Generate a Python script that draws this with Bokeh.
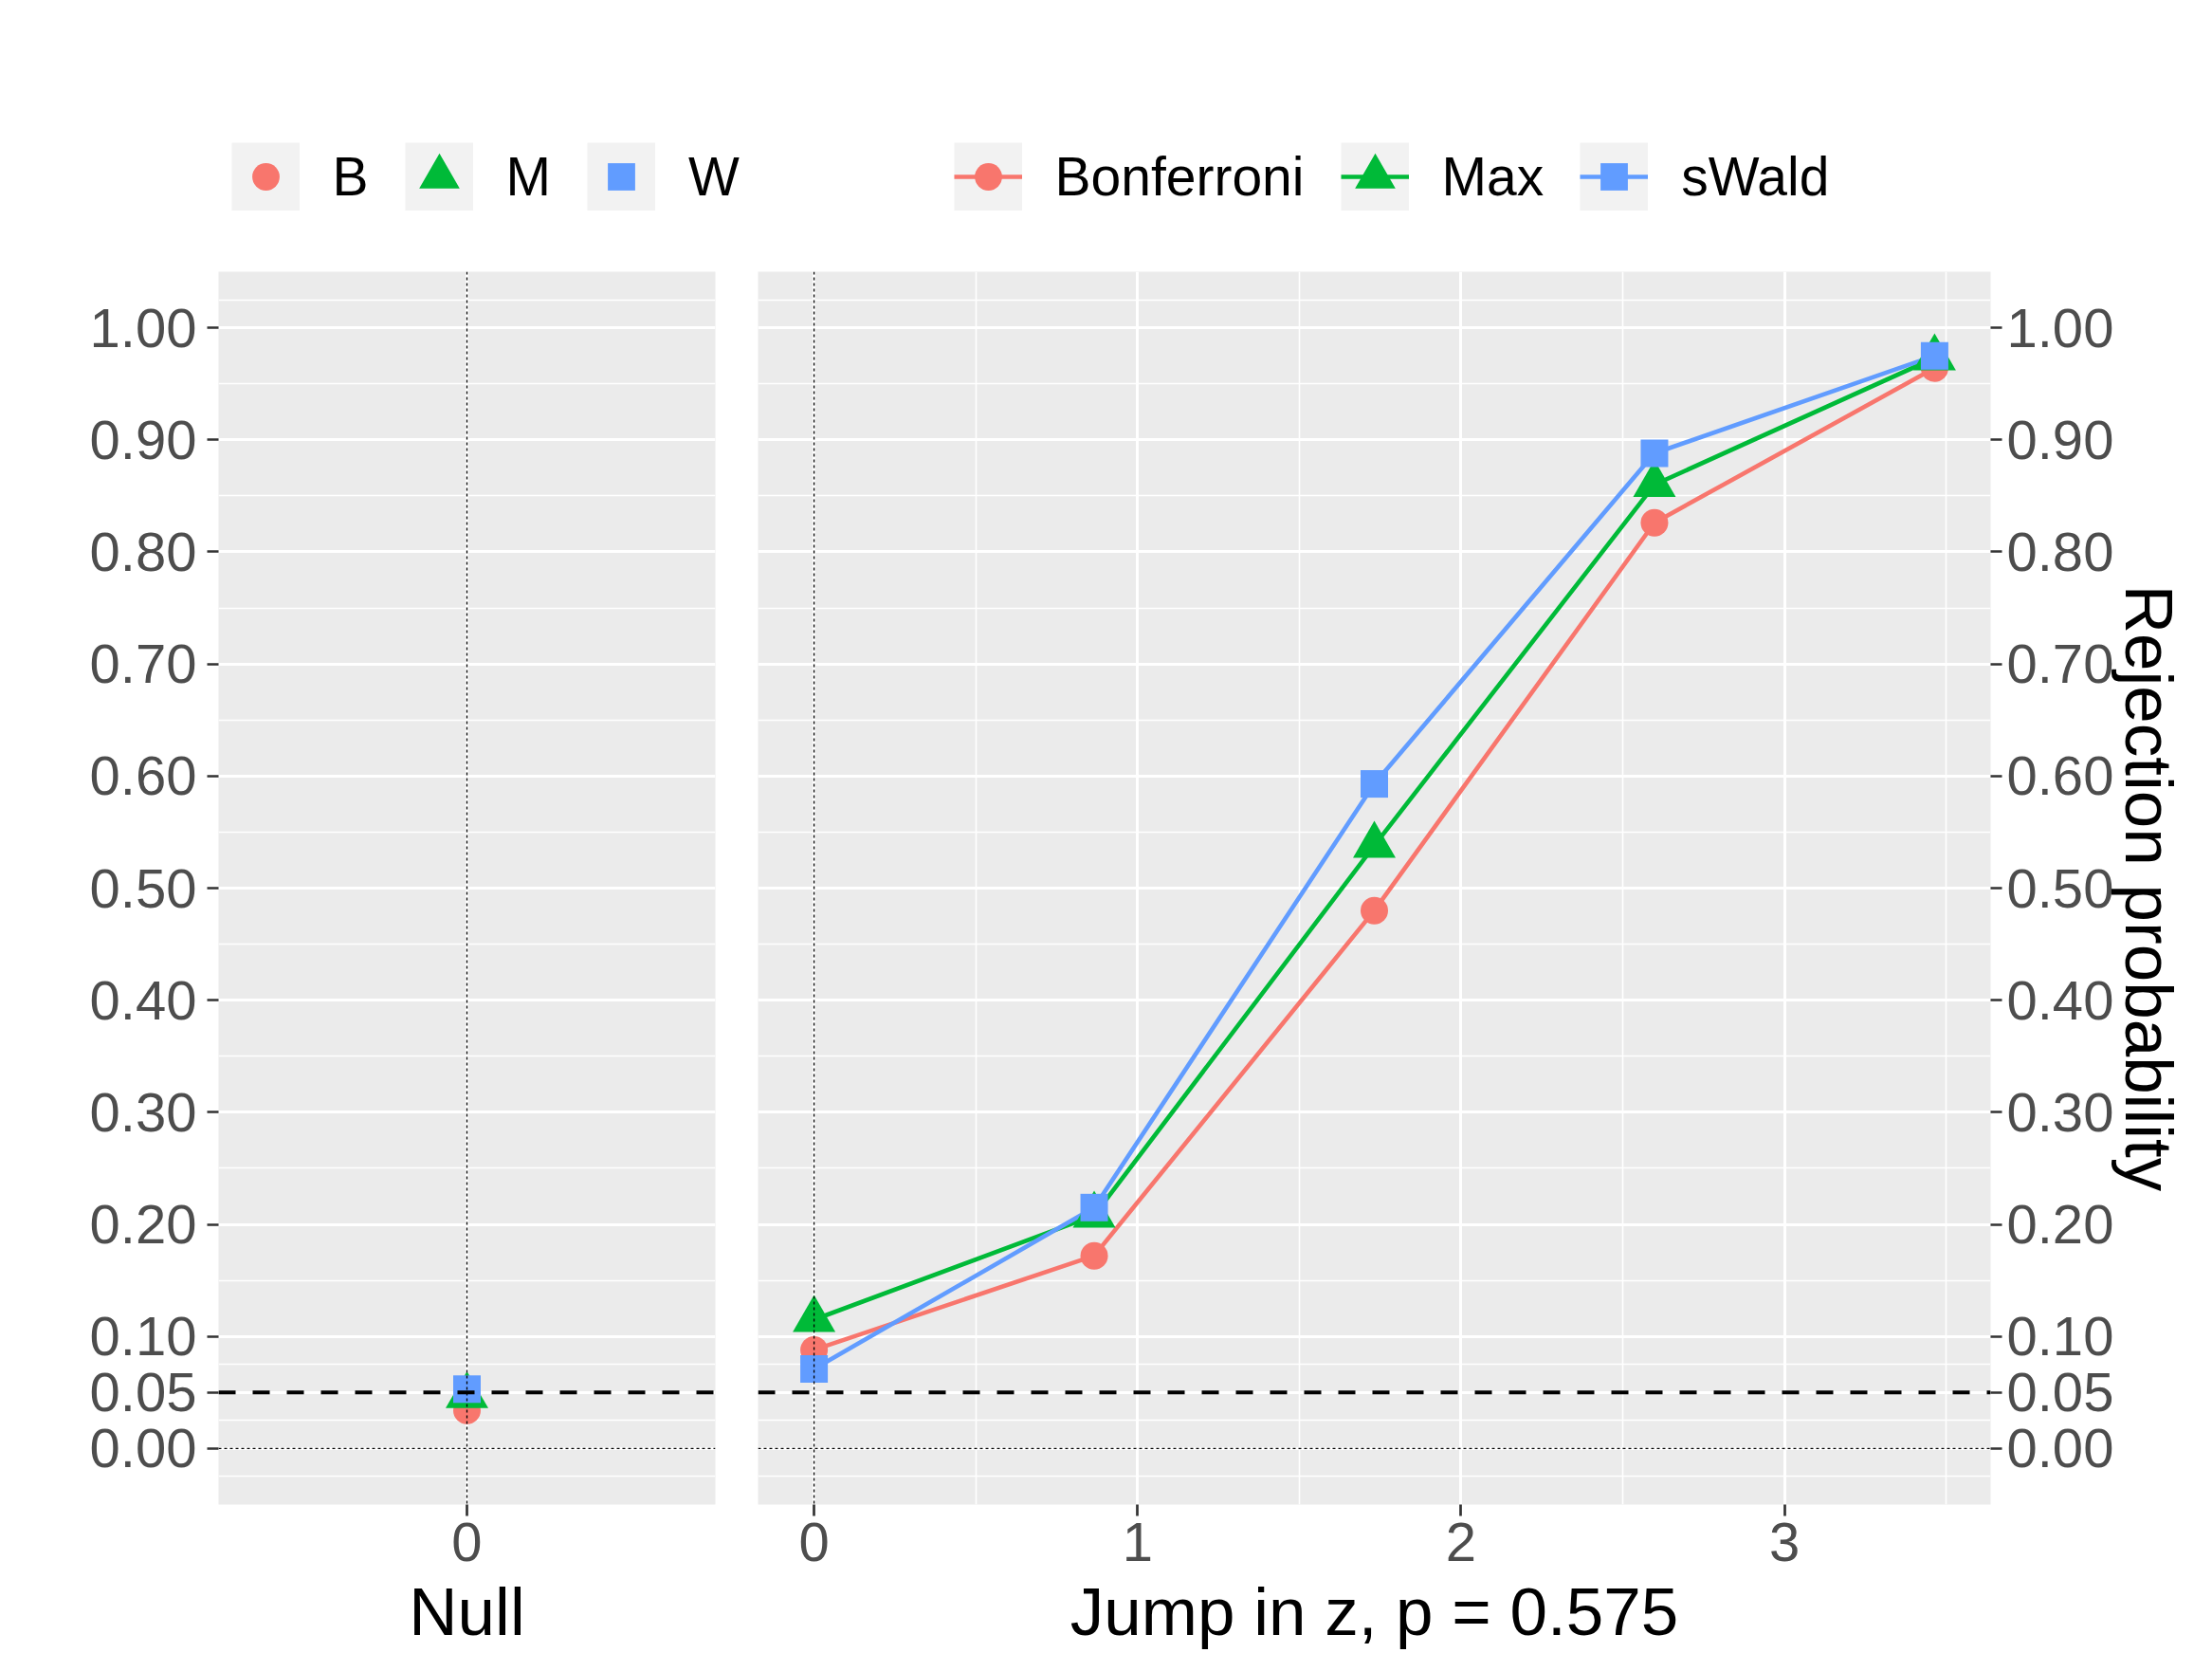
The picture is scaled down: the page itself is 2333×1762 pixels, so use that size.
from bokeh.plotting import figure
from bokeh.models import Range1d, FixedTicker, Span, Legend, LegendItem, NumeralTickFormatter
from bokeh.layouts import row, column
from bokeh.embed import file_html
from bokeh.resources import INLINE

# ---------------- data ----------------
null_labels = ["B", "M", "W"]
null_x = [0.0]
null_B = [0.034]
null_M = [0.047]
null_W = [0.053]

jump_labels = ["Bonferroni", "Max", "sWald"]
jump_z = [0.0, 0.866, 1.732, 2.598, 3.464]
bonferroni = [0.088, 0.172, 0.480, 0.826, 0.964]
max_test = [0.115, 0.208, 0.538, 0.860, 0.973]
swald = [0.071, 0.215, 0.593, 0.888, 0.975]

y_limits = [0.0, 1.0]
y_ticks = [0.0, 0.05, 0.1, 0.2, 0.3, 0.4, 0.5, 0.6, 0.7, 0.8, 0.9, 1.0]
y_tick_labels = ["0.00", "0.05", "0.10", "0.20", "0.30", "0.40", "0.50",
                 "0.60", "0.70", "0.80", "0.90", "1.00"]
x_ticks_null = [0]
x_ticks_jump = [0, 1, 2, 3]
alpha_level = 0.05
zero_level = 0.0

null_title = "Null"
jump_title = "Jump in z, p = 0.575"
y_title = "Rejection probability"

colors = ["#F8766D", "#00BA38", "#619CFF"]
markers = ["circle", "triangle", "square"]
marker_sizes = [29, 45, 29]
key_outline = [0, 8, 0]   # enlarges the legend triangle to ggplot's key size
FONT = "Liberation Sans"
LINE_W = 4.6
NAN = float("nan")


def minor_breaks(b, lo, hi):
    bd = b[1] - b[0]
    ext = list(b)
    if lo < b[0]:
        ext = [b[0] - bd] + ext
    if hi > b[-1]:
        ext = ext + [b[-1] + bd]
    mids = [(ext[i] + ext[i + 1]) / 2 for i in range(len(ext) - 1)]
    return [m for m in mids if lo <= m <= hi]


def expand(lo, hi, f=0.05):
    d = (hi - lo) * f
    return lo - d, hi + d


ylo, yhi = expand(*y_limits)
jlo, jhi = expand(min(jump_z), max(jump_z))


def style(p):
    p.background_fill_color = "#EBEBEB"
    p.border_fill_color = "white"
    p.outline_line_color = None
    for g in p.grid:
        g.grid_line_color = "white"
        g.grid_line_width = 3.0
        g.minor_grid_line_color = "white"
        g.minor_grid_line_width = 1.6
    for ax in p.axis:
        ax.axis_line_color = None
        ax.major_tick_line_color = "#333333"
        ax.major_tick_line_width = 2.7
        ax.major_tick_out = 12
        ax.major_tick_in = 0
        ax.minor_tick_line_color = None
        ax.major_label_text_font = FONT
        ax.major_label_text_font_size = "58px"
        ax.major_label_text_color = "#4D4D4D"
        ax.axis_label_text_font = FONT
        ax.axis_label_text_font_size = "71px"
        ax.axis_label_text_font_style = "normal"
        ax.axis_label_text_color = "black"


def add_refs(p):
    p.add_layout(Span(location=alpha_level, dimension="width", line_color="black",
                      line_width=4, line_dash="18 18"))
    p.add_layout(Span(location=zero_level, dimension="width", line_color="black",
                      line_width=1.3, line_dash="3 3"))
    p.add_layout(Span(location=0, dimension="height", line_color="black",
                      line_width=1.3, line_dash="3 3"))


def make_legend(items, x, y):
    return Legend(items=items, location=(x, y), orientation="horizontal",
                  glyph_width=72, glyph_height=72, label_standoff=35, spacing=38,
                  padding=0, margin=0, border_line_color=None, background_fill_alpha=0,
                  label_text_font=FONT, label_text_font_size="57px",
                  label_text_color="black")


def key_marker(p, m, c, w):
    return p.scatter(x=[NAN], y=[NAN], marker=m, fill_color=c,
                     line_color=c if w > 0 else None, line_width=max(w, 1),
                     line_join="miter")


y_minor = minor_breaks(y_ticks, ylo, yhi)
overrides = {t: l for t, l in zip(y_ticks, y_tick_labels)}

LEG_H = 240
TOTAL_W = 774 + 1540

# ---------------- legend strip (keys only, no data drawn) ----------------
pl = figure(width=TOTAL_W, height=LEG_H, output_backend="svg", toolbar_location=None,
            x_range=Range1d(0, 1), y_range=Range1d(0, 1),
            x_axis_type=None, y_axis_type=None, min_border=0)
pl.outline_line_color = None
pl.background_fill_color = "white"
pl.border_fill_color = "white"
pl.grid.visible = False

key_bg = pl.line(x=[NAN], y=[NAN], line_width=72, line_color="#F2F2F2")
items1 = []
for lab, c, m, w in zip(null_labels, colors, markers, key_outline):
    r = key_marker(pl, m, c, w)
    items1.append(LegendItem(label=lab, renderers=[key_bg, r]))
items2 = []
for lab, c, m, w in zip(jump_labels, colors, markers, key_outline):
    ln = pl.line(x=[NAN], y=[NAN], line_color=c, line_width=LINE_W)
    r = key_marker(pl, m, c, w)
    items2.append(LegendItem(label=lab, renderers=[key_bg, ln, r]))
pl.add_layout(make_legend(items1, 243.5, 18.3))
pl.add_layout(make_legend(items2, 1005.5, 18.3))

# ---------------- left panel (Null) ----------------
p1 = figure(frame_width=524, frame_height=1300, output_backend="svg",
            toolbar_location=None, x_range=Range1d(-1, 1), y_range=Range1d(ylo, yhi),
            min_border_left=230, min_border_right=20, min_border_top=46,
            min_border_bottom=160)
p1.xaxis.ticker = FixedTicker(ticks=x_ticks_null, minor_ticks=[])
p1.yaxis.ticker = FixedTicker(ticks=y_ticks, minor_ticks=y_minor)
p1.yaxis.formatter = NumeralTickFormatter(format="0.00")
p1.yaxis.major_label_overrides = overrides
p1.xaxis.axis_label = null_title
style(p1)
p1.yaxis.major_label_standoff = 11
p1.xaxis.major_label_standoff = 7
p1.xaxis.axis_label_standoff = 11

for vals, c, m, s in zip([null_B, null_M, null_W], colors, markers, marker_sizes):
    p1.scatter(x=null_x, y=vals, marker=m, size=s, fill_color=c, line_color=None)
add_refs(p1)

# ---------------- right panel (Jump) ----------------
p2 = figure(frame_width=1300, frame_height=1300, output_backend="svg",
            toolbar_location=None, x_range=Range1d(jlo, jhi), y_range=Range1d(ylo, yhi),
            y_axis_location="right",
            min_border_left=25, min_border_right=215, min_border_top=46,
            min_border_bottom=160)
p2.xaxis.ticker = FixedTicker(ticks=x_ticks_jump,
                              minor_ticks=minor_breaks(x_ticks_jump, jlo, jhi))
p2.yaxis.ticker = FixedTicker(ticks=y_ticks, minor_ticks=y_minor)
p2.yaxis.formatter = NumeralTickFormatter(format="0.00")
p2.yaxis.major_label_overrides = overrides
p2.xaxis.axis_label = jump_title
p2.yaxis.axis_label = y_title
style(p2)
p2.yaxis.major_label_standoff = 5
p2.yaxis.axis_label_standoff = -5
p2.xaxis.major_label_standoff = 7
p2.xaxis.axis_label_standoff = 11

series = [bonferroni, max_test, swald]
for vals, c in zip(series, colors):
    p2.line(x=jump_z, y=vals, line_color=c, line_width=LINE_W)
for vals, c, m, s in zip(series, colors, markers, marker_sizes):
    p2.scatter(x=jump_z, y=vals, marker=m, size=s, fill_color=c, line_color=None)
add_refs(p2)

layout = column(pl, row(p1, p2, spacing=0), spacing=0)
open("out.html", "w").write(file_html(layout, INLINE))
